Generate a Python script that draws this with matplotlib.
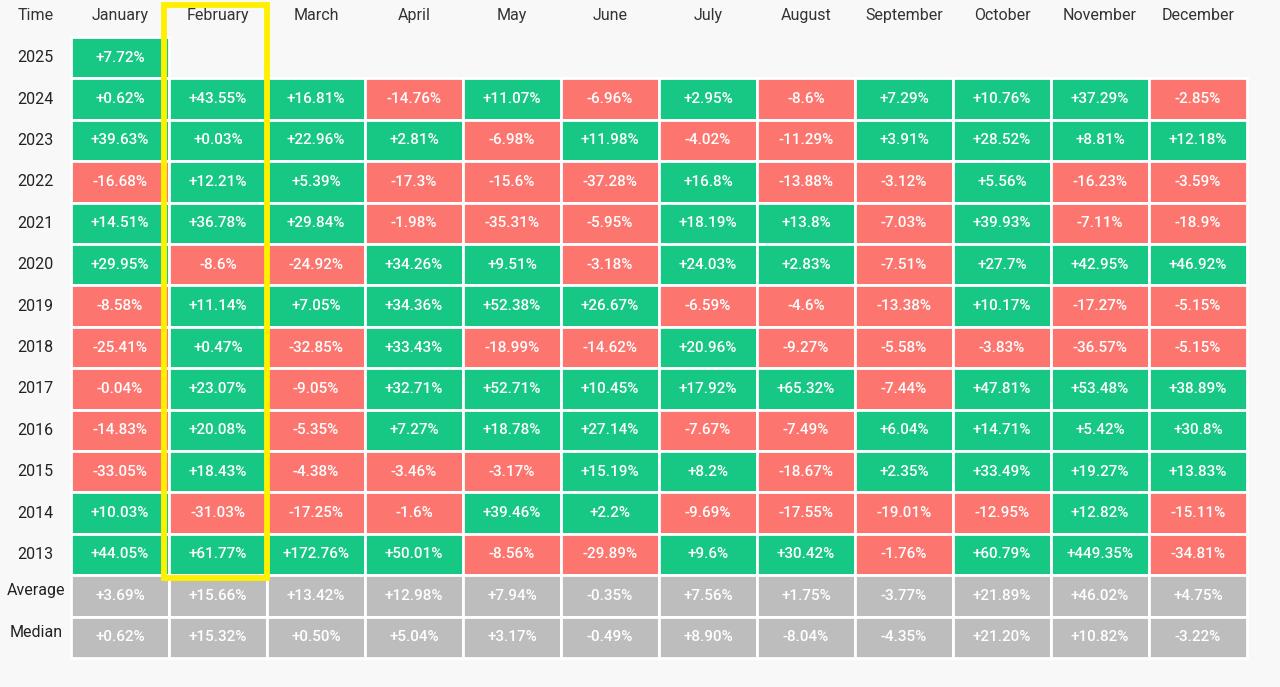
"""Monthly returns table (heatmap style) with February highlighted."""
import matplotlib.pyplot as plt
from matplotlib.patches import Rectangle

months = ['January', 'February', 'March', 'April', 'May', 'June', 'July',
          'August', 'September', 'October', 'November', 'December']
years = ['2025', '2024', '2023', '2022', '2021', '2020', '2019', '2018',
         '2017', '2016', '2015', '2014', '2013']

returns = [
    [7.72],
    [0.62, 43.55, 16.81, -14.76, 11.07, -6.96, 2.95, -8.6, 7.29, 10.76, 37.29, -2.85],
    [39.63, 0.03, 22.96, 2.81, -6.98, 11.98, -4.02, -11.29, 3.91, 28.52, 8.81, 12.18],
    [-16.68, 12.21, 5.39, -17.3, -15.6, -37.28, 16.8, -13.88, -3.12, 5.56, -16.23, -3.59],
    [14.51, 36.78, 29.84, -1.98, -35.31, -5.95, 18.19, 13.8, -7.03, 39.93, -7.11, -18.9],
    [29.95, -8.6, -24.92, 34.26, 9.51, -3.18, 24.03, 2.83, -7.51, 27.7, 42.95, 46.92],
    [-8.58, 11.14, 7.05, 34.36, 52.38, 26.67, -6.59, -4.6, -13.38, 10.17, -17.27, -5.15],
    [-25.41, 0.47, -32.85, 33.43, -18.99, -14.62, 20.96, -9.27, -5.58, -3.83, -36.57, -5.15],
    [-0.04, 23.07, -9.05, 32.71, 52.71, 10.45, 17.92, 65.32, -7.44, 47.81, 53.48, 38.89],
    [-14.83, 20.08, -5.35, 7.27, 18.78, 27.14, -7.67, -7.49, 6.04, 14.71, 5.42, 30.8],
    [-33.05, 18.43, -4.38, -3.46, -3.17, 15.19, 8.2, -18.67, 2.35, 33.49, 19.27, 13.83],
    [10.03, -31.03, -17.25, -1.6, 39.46, 2.2, -9.69, -17.55, -19.01, -12.95, 12.82, -15.11],
    [44.05, 61.77, 172.76, 50.01, -8.56, -29.89, 9.6, 30.42, -1.76, 60.79, 449.35, -34.81],
]
average = [3.69, 15.66, 13.42, 12.98, 7.94, -0.35, 7.56, 1.75, -3.77, 21.89, 46.02, 4.75]
median = [0.62, 15.32, 0.50, 5.04, 3.17, -0.49, 8.90, -8.04, -4.35, 21.20, 10.82, -3.22]

GREEN = '#17c784'
RED = '#fc766f'
GREY = '#bdbdbd'
BG = '#f8f8f8'
YELLOW = '#fff000'

plt.rcParams['font.family'] = ['Roboto', 'DejaVu Sans']

W, H = 1280, 687
fig = plt.figure(figsize=(W / 100, H / 100), dpi=100, facecolor=BG)
n_rows = len(years) + 2
left, right, top, bottom = 71, 1247, 37, 658
ax = fig.add_axes([left / W, 1 - bottom / H, (right - left) / W, (bottom - top) / H])
ax.set_xlim(0, 12)
ax.set_ylim(n_rows, 0)
ax.axis('off')


def cell(col, row, color, label):
    ax.add_patch(Rectangle((col, row), 1, 1, facecolor=color, edgecolor='white',
                           linewidth=2, clip_on=False))
    ax.text(col + 0.5, row + 0.5, label, ha='center', va='center',
            color='white', fontsize=11, fontweight='medium')


for r, row_vals in enumerate(returns):
    for c, v in enumerate(row_vals):
        cell(c, r, GREEN if v >= 0 else RED, f'{v:+g}%')
    ax.text(-0.36, r + 0.5, years[r], ha='center', va='center',
            color='#222222', fontsize=11.5)

for r, (name, vals) in enumerate([('Average', average), ('Median', median)],
                                 start=len(years)):
    for c, v in enumerate(vals):
        cell(c, r, GREY, f'{v:+.2f}%')
    ax.text(-0.36, r + 0.38, name, ha='center', va='center',
            color='#222222', fontsize=11.5)

for c, m in enumerate(months):
    ax.text(c + 0.5, -0.52, m, ha='center', va='center', color='#333333',
            fontsize=11.5)
ax.text(-0.36, -0.52, 'Time', ha='center', va='center', color='#333333',
        fontsize=11.5)

# highlight box around February
ax.add_patch(Rectangle((0.944, -0.785), 1.061, 13.845, fill=False,
                       edgecolor=YELLOW, linewidth=4.2, clip_on=False, zorder=5))

fig.savefig('out.png', dpi=100, facecolor=BG)
